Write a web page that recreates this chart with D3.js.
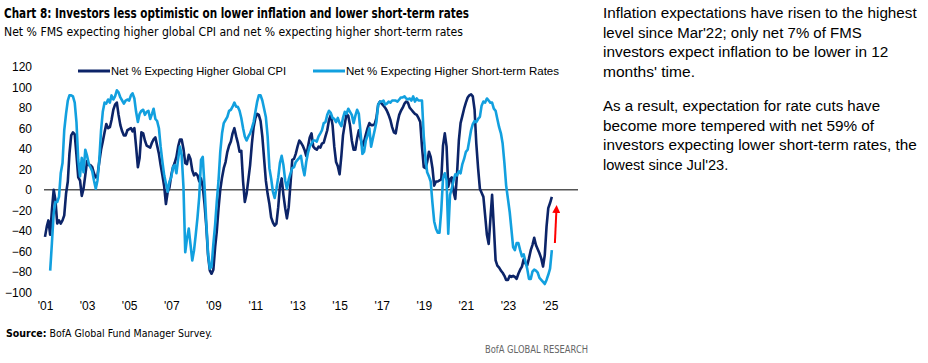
<!DOCTYPE html>
<html><head><meta charset="utf-8">
<script src="https://cdn.jsdelivr.net/npm/d3@7"></script>
<style>body{margin:0;background:#fff;} svg{display:block;}</style>
</head><body>
<svg id="chart" width="928" height="363"></svg>
<script>
// ---------- data ----------
const cpiStart = "2001-01";
const cpiValues = [
-46,-36,-30,-44,-20,0,-10,-33,-30,-33,-30,-25,-4,8,35,53,56,54,34,12,9,-6,1,14,
28,24,24,22,16,12,14,27,39,47,56,64,60,61,68,78,83,85,73,63,57,53,53,58,
59,60,57,60,42,22,31,56,55,48,43,42,41,46,49,51,43,35,24,14,3,-14,-2,2,
14,22,26,32,42,49,49,40,26,25,34,30,19,14,16,14,8,11,3,-14,-36,-64,-79,-82,
-78,-56,-41,-18,0,12,21,27,37,43,47,55,60,52,46,37,38,8,-12,-4,10,24,45,61,
70,74,73,67,52,30,9,-4,-14,-27,-32,-35,-33,-17,3,11,-5,-18,-28,-17,6,29,30,35,
42,48,46,43,39,33,42,51,55,42,40,39,42,41,45,46,52,58,68,73,63,42,27,23,
15,33,53,64,74,72,63,48,39,39,50,58,50,42,47,54,60,65,63,63,64,70,83,86,
84,82,80,77,73,68,61,56,55,65,73,77,80,84,86,85,80,78,76,74,73,70,66,42,
22,21,27,37,32,21,4,8,8,9,10,43,55,42,3,10,12,-2,-9,16,48,65,72,79,
85,90,92,93,91,78,45,21,1,-3,-7,-25,-44,-53,-30,-5,-36,-69,-74,-76,-79,-81,-84,-88,
-88,-84,-85,-84,-85,-87,-82,-78,-75,-68,-72,-74,-67,-59,-54,-47,-54,-58,-62,-67,-75,-64,-36,-18,
-13,-7
];
const ratesStart = "2001-04";
const ratesValues = [
-79,-52,-23,-12,-12,-7,16,26,58,74,87,92,92,91,85,66,29,13,31,17,39,
33,25,22,18,9,1,9,29,58,76,85,84,88,85,92,88,91,97,95,90,87,84,87,88,
87,92,94,89,76,66,74,77,78,73,76,77,69,74,79,69,67,60,42,27,14,6,-2,8,
12,22,24,16,30,42,34,3,-61,-48,-38,-53,-69,-59,-44,-27,-7,29,32,3,-33,-62,-77,-75,
-53,-34,-12,9,37,55,65,68,71,77,78,81,85,81,81,77,70,60,52,48,52,55,60,66,
76,86,92,92,87,79,71,52,21,11,-2,-8,1,12,26,33,24,9,1,10,16,21,22,27,
29,31,33,22,14,27,36,42,45,48,48,47,52,55,58,65,66,73,77,75,70,69,66,70,
65,62,70,76,74,79,76,73,65,72,78,74,55,35,37,48,53,60,42,50,58,66,83,86,
86,87,83,84,86,85,87,87,87,86,88,90,90,91,89,88,89,87,91,86,89,87,87,87,
52,30,17,13,8,-13,-31,-38,-42,-42,-20,11,16,9,-43,-5,1,9,15,14,18,16,25,30,
37,39,48,58,64,67,66,69,71,82,86,85,89,87,85,85,79,77,69,61,55,45,26,4,
-9,-22,-38,-56,-59,-52,-52,-59,-65,-63,-70,-77,-87,-87,-80,-78,-79,-81,-86,-88,-90,-92,-88,-83,
-77,-59
];
const seriesNames = ["Net % Expecting Higher Global CPI", "Net % Expecting Higher Short-term Rates"];
const yTickValues = [-100,-80,-60,-40,-20,0,20,40,60,80,100,120];
const xTickYears = [2001,2003,2005,2007,2009,2011,2013,2015,2017,2019,2021,2023,2025];
const arrowFrom = ["2025-03-26", -52];
const arrowTo = ["2025-04-22", -13];
const titleText = "Chart 8: Investors less optimistic on lower inflation and lower short-term rates";
const subtitleText = "Net % FMS expecting higher global CPI and net % expecting higher short-term rates";
const sourceLabel = "Source:";
const sourceText = " BofA Global Fund Manager Survey.";
const brandText = "BofA GLOBAL RESEARCH";
const commentary = [
  ["Inflation expectations have risen to the highest", "level since Mar'22; only net 7% of FMS", "investors expect inflation to be lower in 12", "months' time."],
  ["As a result, expectation for rate cuts have", "become more tempered with net 59% of", "investors expecting lower short-term rates, the", "lowest since Jul'23."]
];

// ---------- drawing ----------
const svg = d3.select("#chart");
const COL_DARK = "#0c2468", COL_LIGHT = "#12a0df";
const parseM = d3.timeParse("%Y-%m");
const parseD = d3.timeParse("%Y-%m-%d");
const mk = (start, vals) => { const s = parseM(start); return vals.map((v, i) => ({date: d3.timeMonth.offset(s, i), value: v})); };
const cpi = mk(cpiStart, cpiValues);
const rates = mk(ratesStart, ratesValues);

const x = d3.scaleTime().domain([new Date(2001, 0, 1), new Date(2026, 4, 1)]).range([45, 578]);
const y = d3.scaleLinear().domain([-100, 120]).range([292.2, 66.7]);

// titles
svg.append("text").attr("x", 4).attr("y", 18).text(titleText)
  .attr("font-family", "'Liberation Sans Narrow','DejaVu Sans Condensed',sans-serif").attr("font-weight", "bold")
  .attr("font-size", 13.5).attr("fill", "#000").attr("textLength", 465).attr("lengthAdjust", "spacingAndGlyphs");
svg.append("text").attr("x", 4).attr("y", 36).text(subtitleText)
  .attr("font-family", "'Liberation Sans Narrow','DejaVu Sans Condensed',sans-serif")
  .attr("font-size", 12.5).attr("fill", "#000").attr("textLength", 459).attr("lengthAdjust", "spacingAndGlyphs");

// zero line
svg.append("line").attr("x1", 44).attr("x2", 578).attr("y1", y(0)).attr("y2", y(0))
  .attr("stroke", "#555").attr("stroke-width", 1.4);

// y axis
const yAxis = d3.axisLeft(y).tickValues(yTickValues).tickSize(0).tickPadding(0);
const gy = svg.append("g").attr("transform", "translate(32,0)").call(yAxis);
gy.select(".domain").remove();
gy.selectAll("text").attr("font-family", "'Liberation Sans',sans-serif").attr("font-size", 12).attr("fill", "#000");

// x axis
const xAxis = d3.axisBottom(x).tickValues(xTickYears.map(yy => new Date(yy, 0, 1)))
  .tickFormat(d3.timeFormat("'%y")).tickSize(0).tickPadding(0);
const gx = svg.append("g").attr("transform", "translate(0,301)").call(xAxis);
gx.select(".domain").remove();
gx.selectAll("text").attr("font-family", "'Liberation Sans',sans-serif").attr("font-size", 12).attr("fill", "#000");

// lines
const line = d3.line().x(d => x(d.date)).y(d => y(d.value));
svg.append("path").datum(cpi).attr("d", line).attr("fill", "none")
  .attr("stroke", COL_DARK).attr("stroke-width", 2.6).attr("stroke-linejoin", "round");
svg.append("path").datum(rates).attr("d", line).attr("fill", "none")
  .attr("stroke", COL_LIGHT).attr("stroke-width", 2.6).attr("stroke-linejoin", "round");

// legend
const legend = [
  {name: seriesNames[0], color: COL_DARK, x0: 78, w: 175},
  {name: seriesNames[1], color: COL_LIGHT, x0: 313, w: 213}
];
legend.forEach(l => {
  svg.append("line").attr("x1", l.x0).attr("x2", l.x0 + 32).attr("y1", 71).attr("y2", 71)
    .attr("stroke", l.color).attr("stroke-width", 3);
  svg.append("text").attr("x", l.x0 + 33).attr("y", 75).text(l.name)
    .attr("font-family", "'Liberation Sans',sans-serif").attr("font-size", 11.5).attr("fill", "#000")
    .attr("textLength", l.w).attr("lengthAdjust", "spacingAndGlyphs");
});

// red arrow
const defs = svg.append("defs");
defs.append("marker").attr("id", "ah").attr("viewBox", "0 0 10 10").attr("refX", 5).attr("refY", 5)
  .attr("markerWidth", 4).attr("markerHeight", 4).attr("orient", "auto")
  .append("path").attr("d", "M0,0 L10,5 L0,10 Z").attr("fill", "#ff0000");
svg.append("line")
  .attr("x1", x(parseD(arrowFrom[0]))).attr("y1", y(arrowFrom[1]))
  .attr("x2", x(parseD(arrowTo[0]))).attr("y2", y(arrowTo[1]) + 6)
  .attr("stroke", "#ff0000").attr("stroke-width", 2).attr("marker-end", "url(#ah)");

// source and brand
const src = svg.append("text").attr("x", 6).attr("y", 337)
  .attr("font-family", "'Liberation Sans Narrow','DejaVu Sans Condensed',sans-serif").attr("font-size", 10.5).attr("fill", "#000");
src.append("tspan").attr("font-weight", "bold").text(sourceLabel);
src.append("tspan").text(sourceText);
svg.append("text").attr("x", 588).attr("y", 353).attr("text-anchor", "end").text(brandText)
  .attr("font-family", "'Liberation Sans Narrow','DejaVu Sans Condensed',sans-serif").attr("font-size", 11).attr("fill", "#666")
  .attr("textLength", 103).attr("lengthAdjust", "spacingAndGlyphs");

// commentary
const widths = [[313.7, 258.7, 285.3, 92], [277, 271, 313.7, 125.3]];
const paraY = [18, 111];
commentary.forEach((para, pi) => {
  para.forEach((ln, li) => {
    svg.append("text").attr("x", 603).attr("y", paraY[pi] + li * 19.5).text(ln)
      .attr("font-family", "'Liberation Sans',sans-serif").attr("font-size", 14).attr("fill", "#000")
      .attr("textLength", widths[pi][li]).attr("lengthAdjust", "spacingAndGlyphs");
  });
});
</script>
</body></html>
